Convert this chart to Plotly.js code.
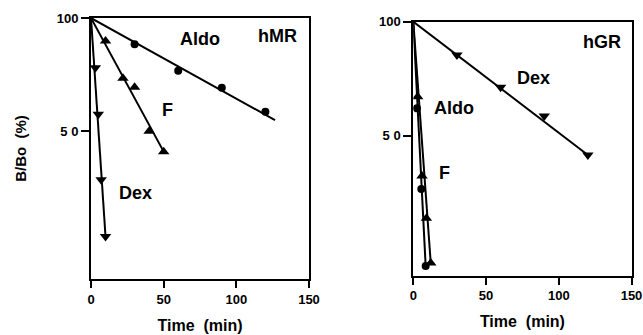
<!DOCTYPE html>
<html>
<head>
<meta charset="utf-8">
<script src="https://cdn.plot.ly/plotly-3.0.1.min.js"></script>
<style>html,body{margin:0;padding:0;background:#fff;}#chart{width:643px;height:335px;}</style>
</head>
<body>
<div id="chart"></div>
<script>
// ---- hMR panel data (time in min, B/Bo in %) ----
var mrAldoT = [30, 60, 90, 120];
var mrAldoY = [85.2, 72.4, 65.3, 56.4];
var mrFT = [10, 22, 30, 40, 50];
var mrFY = [86.9, 69.2, 65.5, 50.1, 44.2];
var mrDexT = [3, 5, 7, 10];
var mrDexY = [73.8, 55.5, 37.2, 26.3];
// fitted lines (start, end)
var mrAldoFitT = [0, 126.6];
var mrAldoFitY = [100, 53.6];
var mrFFitT = [0, 50];
var mrFFitY = [100, 44.2];
var mrDexFitT = [0, 10];
var mrDexFitY = [100, 26.3];

// ---- hGR panel data ----
var grDexT = [30, 60, 90, 120];
var grDexY = [81.6, 67.1, 56.3, 44.4];
var grAldoT = [2.5, 5.5, 8.5];
var grAldoY = [59.0, 36.1, 22.6];
var grFT = [3, 6, 9, 12];
var grFY = [63.3, 39.1, 30.2, 23.0];
var grDexFitT = [0, 120];
var grDexFitY = [100, 44.4];
var grAldoFitT = [0, 8.5];
var grAldoFitY = [100, 22.6];
var grFFitT = [0, 12];
var grFFitY = [100, 23.0];

var xTicks = [0, 50, 100, 150];
var yTicks = [50, 100];
var yTickText = ['5 0', '100'];

var FONT = 'Liberation Sans, Arial, Helvetica, sans-serif';
var BLACK = '#000';

function line(x, y, xa, ya) {
  return {x: x, y: y, xaxis: xa, yaxis: ya, mode: 'lines', type: 'scatter',
          line: {color: BLACK, width: 2}, hoverinfo: 'skip', showlegend: false};
}
function pts(x, y, sym, size, xa, ya) {
  return {x: x, y: y, xaxis: xa, yaxis: ya, mode: 'markers', type: 'scatter',
          marker: {symbol: sym, size: size, color: BLACK}, showlegend: false};
}

var traces = [
  line(mrAldoFitT, mrAldoFitY, 'x', 'y'),
  line(mrFFitT, mrFFitY, 'x', 'y'),
  line(mrDexFitT, mrDexFitY, 'x', 'y'),
  pts(mrAldoT, mrAldoY, 'circle', 8, 'x', 'y'),
  pts(mrFT, mrFY, 'triangle-up', 10, 'x', 'y'),
  pts(mrDexT, mrDexY, 'triangle-down', 10, 'x', 'y'),
  line(grDexFitT, grDexFitY, 'x2', 'y2'),
  line(grAldoFitT, grAldoFitY, 'x2', 'y2'),
  line(grFFitT, grFFitY, 'x2', 'y2'),
  pts(grDexT, grDexY, 'triangle-down', 10, 'x2', 'y2'),
  pts(grAldoT, grAldoY, 'circle', 8, 'x2', 'y2'),
  pts(grFT, grFY, 'triangle-up', 10, 'x2', 'y2')
];

function xaxis(domain, anchor) {
  return {
    domain: domain, anchor: anchor, range: [0, 150], tickvals: xTicks,
    showgrid: false, zeroline: false, showline: true, mirror: true,
    linecolor: BLACK, linewidth: 2, ticks: 'outside', ticklen: 7, tickwidth: 2, tickcolor: BLACK,
    tickfont: {family: FONT, size: 13, color: BLACK, weight: 'bold'},
    title: {text: 'Time  (min)', font: {family: FONT, size: 16, color: BLACK, weight: 'bold'}, standoff: 14},
    automargin: false, fixedrange: true
  };
}
function yaxis(domain, anchor, bottom, titleText) {
  return {
    domain: domain, anchor: anchor, type: 'log', range: [Math.log10(bottom), 2],
    tickvals: yTicks, ticktext: yTickText,
    showgrid: false, zeroline: false, showline: true, mirror: true,
    linecolor: BLACK, linewidth: 2, ticks: 'outside', ticklen: 8, tickwidth: 2, tickcolor: BLACK,
    tickfont: {family: FONT, size: 13, color: BLACK, weight: 'bold'},
    title: {text: titleText, font: {family: FONT, size: 15, color: BLACK, weight: 'bold'}, standoff: 26},
    automargin: false, fixedrange: true
  };
}

var W = 643, H = 335;
function ann(text, px, py) {
  return {text: text, x: px / W, y: 1 - py / H, xref: 'paper', yref: 'paper',
          showarrow: false, xanchor: 'center', yanchor: 'middle',
          font: {family: FONT, size: 18, color: BLACK, weight: 'bold'}};
}

var layout = {
  width: W, height: H,
  margin: {l: 0, r: 0, t: 0, b: 0},
  paper_bgcolor: '#fff', plot_bgcolor: '#fff',
  showlegend: false,
  xaxis: xaxis([91 / W, 309 / W], 'y'),
  yaxis: yaxis([1 - 279 / H, 1 - 18 / H], 'x', 20.3, 'B/Bo  (%)'),
  xaxis2: xaxis([413.3 / W, 631.5 / W], 'y2'),
  yaxis2: yaxis([1 - 275.7 / H, 1 - 21.7 / H], 'x2', 21.3, ''),
  annotations: [
    ann('Aldo', 200, 39),
    ann('hMR', 277, 36),
    ann('F', 167, 110),
    ann('Dex', 135, 193),
    ann('hGR', 601.7, 41.7),
    ann('Dex', 533.3, 77.7),
    ann('Aldo', 454.3, 107.7),
    ann('F', 444, 173.3)
  ]
};

Plotly.newPlot('chart', traces, layout, {staticPlot: true, displayModeBar: false});
</script>
</body>
</html>
